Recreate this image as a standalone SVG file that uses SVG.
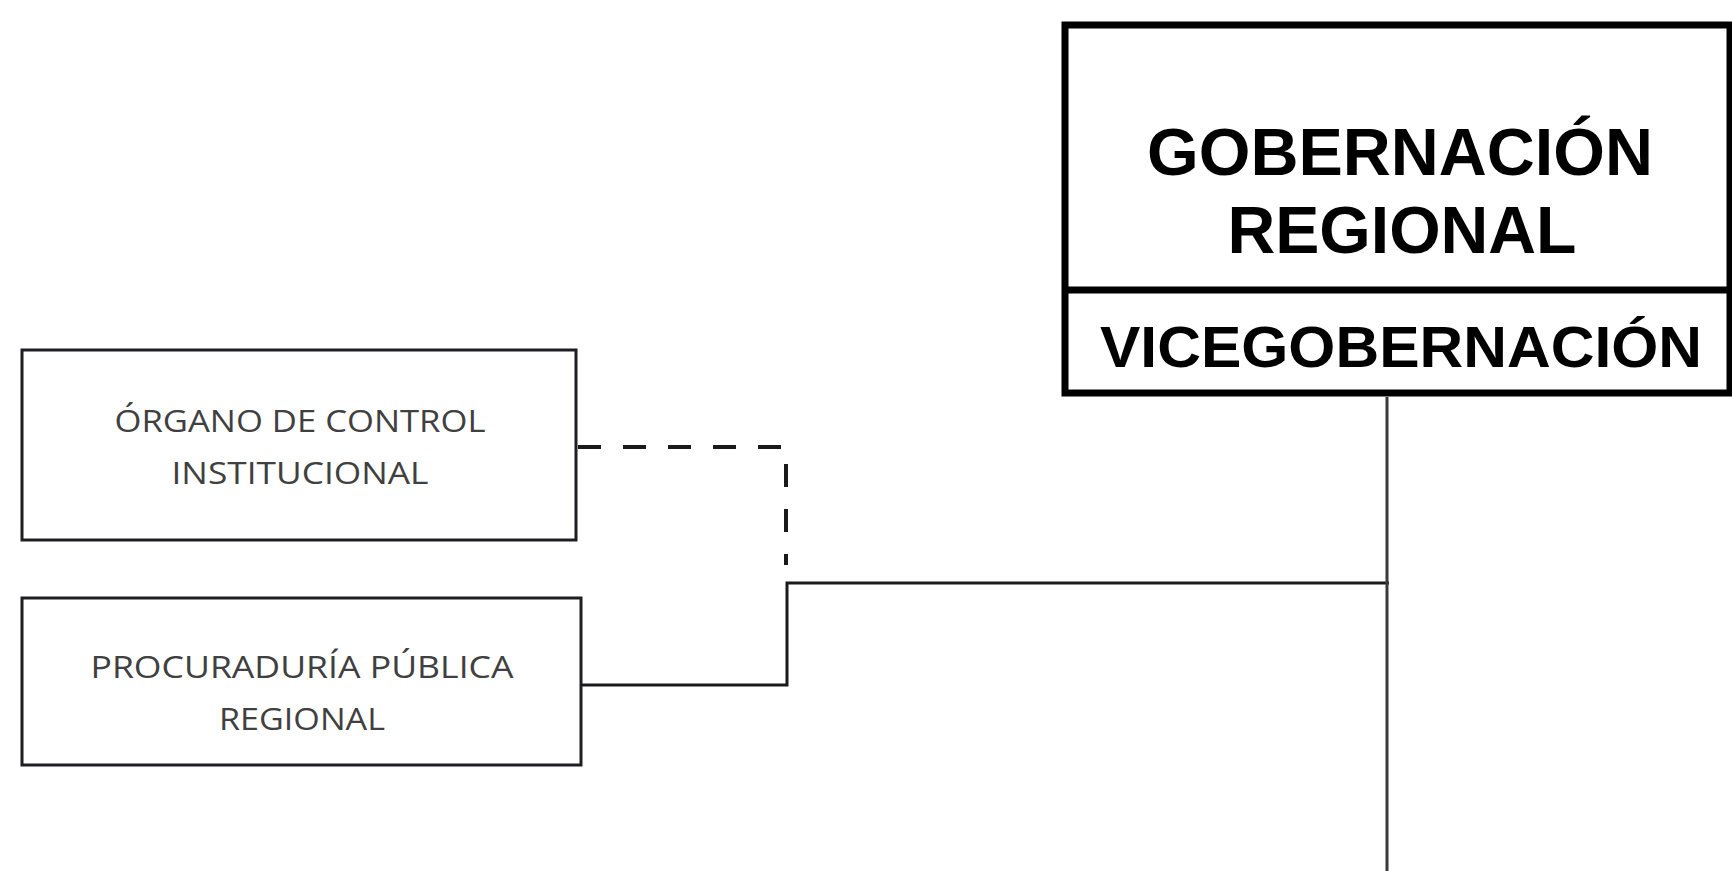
<svg xmlns="http://www.w3.org/2000/svg" width="1732" height="871" viewBox="0 0 1732 871">
<style>
.bg{fill:#ffffff}
.small{fill:#ffffff;stroke:#1e1e24;stroke-width:3}
.big{fill:#ffffff;stroke:#000000;stroke-width:7}
.lbl{font-family:"Open Sans","Liberation Sans",sans-serif;font-size:31px;fill:#404040;text-anchor:middle}
.head{font-family:"Liberation Sans",Arial,sans-serif;font-weight:bold;fill:#000000;text-anchor:middle}
.conn{fill:none;stroke:#1a1a1a;stroke-width:3}
.dash{fill:none;stroke:#1a1a1a;stroke-width:4;stroke-dasharray:23 22}
</style>
<rect class="bg" x="0" y="0" width="1732" height="871"/>
<g id="connectors">
<path class="dash" d="M578 447 H786 V565"/>
<path class="conn" d="M582 685 H787 V583 H1389"/>
<path class="conn" d="M1387 397 V871" style="stroke:#3a3a3a"/>
</g>
<g id="gobernacion">
<rect class="big" x="1065" y="25" width="665" height="368"/>
<line x1="1065" y1="290" x2="1730" y2="290" stroke="#000" stroke-width="7"/>
<text class="head" x="1400" y="175" font-size="66" textLength="506" lengthAdjust="spacingAndGlyphs">GOBERNACIÓN</text>
<text class="head" x="1402" y="253" font-size="66" textLength="349" lengthAdjust="spacingAndGlyphs">REGIONAL</text>
<text class="head" x="1401" y="367" font-size="57" textLength="602" lengthAdjust="spacingAndGlyphs">VICEGOBERNACIÓN</text>
</g>
<g id="organo-control">
<rect class="small" x="22" y="350" width="554" height="190"/>
<text class="lbl" x="300" y="432" textLength="371" lengthAdjust="spacingAndGlyphs">ÓRGANO DE CONTROL</text>
<text class="lbl" x="300" y="484" textLength="257" lengthAdjust="spacingAndGlyphs">INSTITUCIONAL</text>
</g>
<g id="procuraduria">
<rect class="small" x="22" y="598" width="559" height="167"/>
<text class="lbl" x="302" y="678" textLength="423" lengthAdjust="spacingAndGlyphs">PROCURADURÍA PÚBLICA</text>
<text class="lbl" x="302" y="730" textLength="166" lengthAdjust="spacingAndGlyphs">REGIONAL</text>
</g>
</svg>
